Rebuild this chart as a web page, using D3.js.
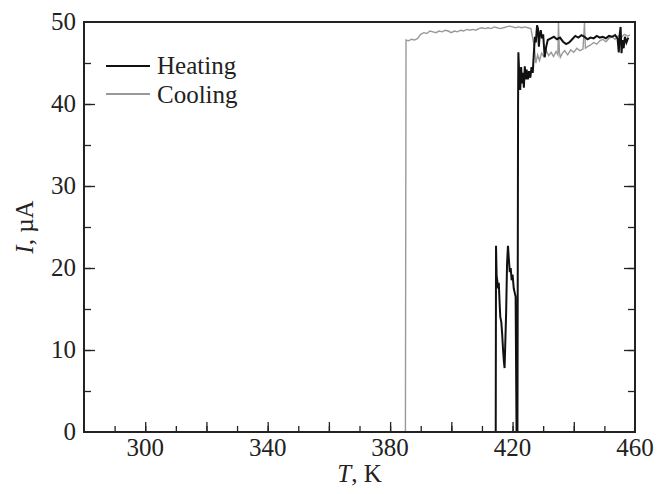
<!DOCTYPE html>
<meta charset="utf-8">
<script src="https://d3js.org/d3.v7.min.js"></script>
<style>
  body { margin: 0; background: #fff; }
  text { font-family: "Liberation Serif", "Times New Roman", serif; fill: #222; }
</style>
<div id="chart"></div>
<script>

// heating curve: temperature (K) and current (uA)
var heatT = [280, 414.5, 414.6, 414.8, 415.0, 415.3, 415.5, 415.8, 416.0, 416.3, 416.6, 416.9, 417.2, 417.4,
  417.6, 417.9, 418.2, 418.5, 418.8, 419.1, 419.4, 419.7, 420.0, 420.4, 420.7, 421.0, 421.3, 421.6,
  421.8, 421.9, 422.2, 422.5, 422.8, 423.1, 423.4, 423.7, 424.0, 424.3, 424.6, 425.0, 425.4, 425.8,
  426.2, 426.6, 427.0, 427.3, 427.6, 428.0, 428.3, 428.6, 428.9, 429.2, 429.6, 430.0, 430.5, 431.0,
  431.5, 432.5, 433.5, 434.5, 435.5, 436.5, 437.5, 438.5, 439.5, 440.5, 441.5, 442.5, 443.5, 444.5,
  445.5, 446.5, 447.5, 448.5, 449.5, 450.5, 451.5, 452.5, 453.5, 454.3, 454.7, 455.0, 455.3, 455.6,
  455.9, 456.3, 456.7, 457.2, 457.8];
var heatI = [0, 0, 22.7, 19.0, 18.5, 17.5, 18.2, 15.5, 14.0, 13.5, 12.0, 10.0, 8.5, 7.8,
  10.5, 14.5, 20.5, 22.7, 21.0, 19.5, 20.0, 18.5, 19.2, 17.5, 17.0, 16.5, 0, 0,
  40, 46.3, 43.5, 41.7, 44.5, 42.5, 43.8, 42.0, 44.6, 43.0, 44.2, 43.0, 44.0, 43.2,
  44.5, 43.8, 46.5, 48.2, 47.5, 49.6, 49.2, 47.0, 48.5, 49.0, 48.0, 48.5, 45.7, 47.0,
  47.8, 48.0, 48.2, 47.9, 48.1, 47.6, 47.3, 47.5, 47.9, 48.3, 48.1, 48.4, 48.2, 47.9,
  48.1, 48.0, 48.3, 48.1, 48.2, 48.0, 48.3, 48.2, 48.4, 48.0, 46.3, 48.5, 49.4, 46.2,
  47.8, 46.8, 48.2, 47.5, 48.1];

// cooling curve
var coolT = [280, 385.0, 385.2, 386, 387, 388, 389, 390, 391, 392, 393, 394, 395, 396, 397, 398, 399,
  400, 401, 402, 403, 404, 405, 406, 407, 408, 409, 410, 411, 412, 413, 414, 415, 416, 417, 418,
  419, 420, 421, 422, 423, 424, 425, 426, 426.6, 427.1, 427.6, 428.2, 428.8, 429.5, 430.2, 431,
  431.8, 432.6, 433.4, 434.2, 434.8, 435.0, 435.3, 435.6, 436.3, 437, 438, 439, 440, 441, 442,
  443, 443.5, 443.8, 444.5, 445.5, 446.5, 447.5, 448.5, 449.5, 450.5, 451.5, 452.5, 453.5, 454.5,
  455.5, 456.5, 457.5, 458.4];
var coolI = [0, 0, 47.8, 47.7, 47.9, 47.8, 48.0, 48.5, 48.7, 48.6, 48.9, 48.8, 48.7, 48.9, 48.8, 49.0, 48.9,
  48.7, 48.9, 48.8, 49.0, 48.9, 49.1, 49.0, 49.1, 49.0, 49.2, 49.3, 49.2, 49.3, 49.2, 49.4, 49.3, 49.2, 49.3, 49.4,
  49.5, 49.4, 49.3, 49.4, 49.3, 49.4, 49.3, 49.2, 48.0, 47.0, 45.0, 46.0, 45.3, 46.2, 45.8, 46.5,
  45.9, 46.3, 45.8, 46.4, 46.0, 49.9, 46.3, 45.7, 46.2, 46.5, 46.0, 46.6, 46.3, 46.8, 46.5,
  46.7, 49.9, 46.8, 47.0, 47.2, 47.5, 47.3, 47.7, 47.9, 47.6, 48.0, 48.2, 47.9, 48.3,
  48.1, 48.5, 48.3, 48.4];

var xMajor = [300, 340, 380, 420, 460];
var yMajor = [0, 10, 20, 30, 40, 50];
var seriesNames = ["Heating", "Cooling"];

var width = 671, height = 494;
var margin = {left: 84, right: 36, top: 22, bottom: 62};

var svg = d3.select("#chart")
  .append("svg")
    .attr("width", width)
    .attr("height", height);

var x = d3.scaleLinear().domain([280, 460]).range([margin.left, width - margin.right]);
var y = d3.scaleLinear().domain([0, 50]).range([height - margin.bottom, margin.top]);

var line = d3.line()
  .x(function(d) { return x(d[0]); })
  .y(function(d) { return y(d[1]); });

var heat = heatT.map(function(t, i) { return [t, heatI[i]]; });
var cool = coolT.map(function(t, i) { return [t, coolI[i]]; });

svg.append("path")
  .datum(cool)
  .attr("d", line)
  .attr("fill", "none")
  .attr("stroke", "#999")
  .attr("stroke-width", 1.4);

svg.append("path")
  .datum(heat)
  .attr("d", line)
  .attr("fill", "none")
  .attr("stroke", "#111")
  .attr("stroke-width", 2);

// axes, ticks point inward
var x0 = x.range()[0], x1 = x.range()[1], y0 = y.range()[0], y1 = y.range()[1];

svg.append("g").attr("transform", "translate(0," + y0 + ")")
  .call(d3.axisBottom(x).tickValues(d3.range(290, 460, 10)).tickSize(-6).tickFormat(""));
svg.append("g").attr("transform", "translate(0," + y0 + ")")
  .call(d3.axisBottom(x).tickValues(d3.range(300, 460, 20)).tickSize(-10).tickFormat(""));
svg.append("g").attr("transform", "translate(" + x0 + ",0)")
  .call(d3.axisLeft(y).tickValues(d3.range(5, 50, 5)).tickSize(-7).tickFormat(""));
svg.append("g").attr("transform", "translate(" + x0 + ",0)")
  .call(d3.axisLeft(y).tickValues(d3.range(10, 50, 10)).tickSize(-11).tickFormat(""));
svg.append("g").attr("transform", "translate(" + x1 + ",0)")
  .call(d3.axisRight(y).tickValues(d3.range(5, 50, 5)).tickSize(-7).tickFormat(""));
svg.append("g").attr("transform", "translate(" + x1 + ",0)")
  .call(d3.axisRight(y).tickValues(d3.range(10, 50, 10)).tickSize(-11).tickFormat(""));

svg.selectAll(".domain").remove();
svg.selectAll(".tick line").attr("stroke", "#222").attr("stroke-width", 1.3);

svg.append("rect")
  .attr("x", x0).attr("y", y1)
  .attr("width", x1 - x0).attr("height", y0 - y1)
  .attr("fill", "none")
  .attr("stroke", "#222")
  .attr("stroke-width", 2);

// tick labels
svg.selectAll(".xlab")
  .data(xMajor)
  .enter()
  .append("text")
    .attr("x", function(d) { return x(d); })
    .attr("y", y0 + 24)
    .style("text-anchor", "middle")
    .style("font-size", "25px")
    .text(function(d) { return d; });

svg.selectAll(".ylab")
  .data(yMajor)
  .enter()
  .append("text")
    .attr("x", x0 - 8)
    .attr("y", function(d) { return y(d) + 8; })
    .style("text-anchor", "end")
    .style("font-size", "25px")
    .text(function(d) { return d; });

// axis titles
var xt = svg.append("text")
  .attr("x", (x0 + x1) / 2)
  .attr("y", y0 + 50)
  .style("text-anchor", "middle")
  .style("font-size", "25px");
xt.append("tspan").style("font-style", "italic").text("T");
xt.append("tspan").text(", K");

var yt = svg.append("text")
  .attr("transform", "translate(33," + ((y0 + y1) / 2) + ") rotate(-90)")
  .style("text-anchor", "middle")
  .style("font-size", "25px");
yt.append("tspan").style("font-style", "italic").text("I");
yt.append("tspan").text(", µA");

// legend
var legColor = ["#111", "#999"];
svg.selectAll(".legline")
  .data(seriesNames)
  .enter()
  .append("line")
    .attr("x1", 106).attr("x2", 150)
    .attr("y1", function(d, i) { return 66 + i * 28; })
    .attr("y2", function(d, i) { return 66 + i * 28; })
    .attr("stroke", function(d, i) { return legColor[i]; })
    .attr("stroke-width", 2);

svg.selectAll(".legtext")
  .data(seriesNames)
  .enter()
  .append("text")
    .attr("x", 157)
    .attr("y", function(d, i) { return 74 + i * 29; })
    .style("font-size", "25px")
    .text(function(d) { return d; });

</script>
